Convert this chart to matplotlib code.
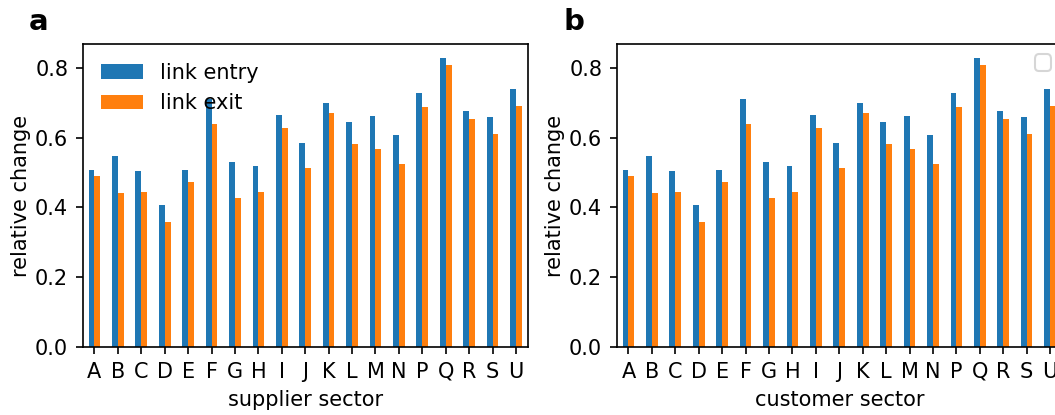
import numpy as np
import matplotlib
matplotlib.use("Agg")
from matplotlib import pyplot as plt

sectors = ["A", "B", "C", "D", "E", "F", "G", "H", "I", "J",
           "K", "L", "M", "N", "P", "Q", "R", "S", "U"]
link_entry = [0.506, 0.546, 0.505, 0.408, 0.507, 0.711, 0.530, 0.518, 0.665, 0.583,
              0.698, 0.643, 0.662, 0.606, 0.727, 0.826, 0.677, 0.659, 0.738]
link_exit = [0.490, 0.440, 0.444, 0.357, 0.474, 0.638, 0.428, 0.444, 0.627, 0.513,
             0.670, 0.581, 0.568, 0.523, 0.687, 0.807, 0.652, 0.610, 0.690]
xlabels = ["supplier sector", "customer sector"]
panel_labels = ["a", "b"]

fig = plt.figure(figsize=(1055 / 150, 415 / 150), dpi=150)
ax_a = fig.add_axes([0.0784, 0.1631, 0.4218, 0.7308])
ax_b = fig.add_axes([0.5846, 0.1631, 0.4218, 0.7308])

x = np.arange(len(sectors))
w = 0.25
for ax, xl in zip([ax_a, ax_b], xlabels):
    ax.bar(x - w / 2, link_entry, w, color="#1f77b4", label="link entry")
    ax.bar(x + w / 2, link_exit, w, color="#ff7f0e", label="link exit")
    ax.set_xticks(x)
    ax.set_xticklabels(sectors)
    ax.set_xlim(-0.5, len(sectors) - 0.5)
    ax.set_yticks([0.0, 0.2, 0.4, 0.6, 0.8])
    ax.set_xlabel(xl)
    ax.set_ylabel("relative change", labelpad=2)

ax_a.legend(loc="upper left", frameon=False)
# second panel gets an (empty) legend box
ax_b.legend(handles=[], loc="upper right")

fig.text(29 / 1055, 1 - 30 / 415, panel_labels[0], fontsize=14, fontweight="bold")
fig.text(563 / 1055, 1 - 30 / 415, panel_labels[1], fontsize=14, fontweight="bold")

fig.savefig("out.png", dpi=150)
